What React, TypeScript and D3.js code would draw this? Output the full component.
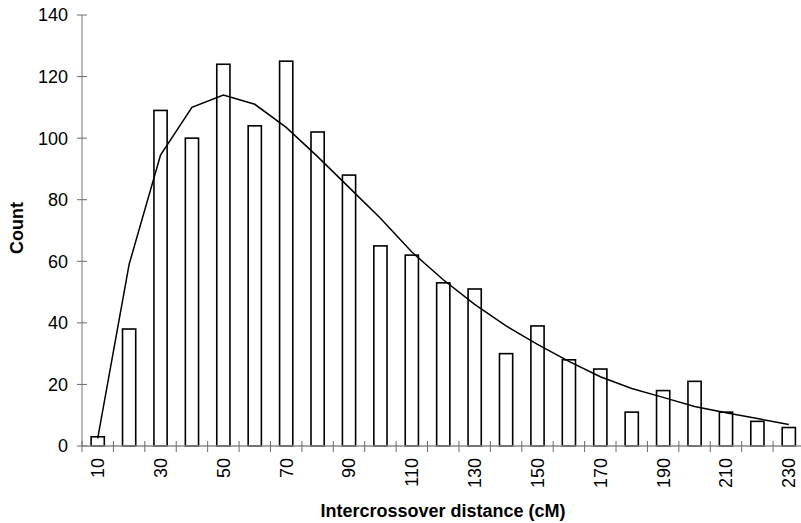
import { useEffect, useRef } from 'react';
import * as d3 from 'd3';

// intercrossover distance bins (cM)
const categories = [10, 20, 30, 40, 50, 60, 70, 80, 90, 100, 110, 120, 130, 140, 150, 160, 170, 180, 190, 200, 210, 220, 230];
// observed counts (bars)
const counts = [3, 38, 109, 100, 124, 104, 125, 102, 88, 65, 62, 53, 51, 30, 39, 28, 25, 11, 18, 21, 11, 8, 6];
// fitted curve
const fitted = [2.5, 59, 94.5, 110, 114, 111, 103.5, 94, 84, 74, 63, 54, 46, 39, 33, 27.5, 22.5, 18.7, 15.8, 12.8, 10.8, 8.9, 7];
const yTicks = [0, 20, 40, 60, 80, 100, 120, 140];
const xLabels = [10, 30, 50, 70, 90, 110, 130, 150, 170, 190, 210, 230];

export default function App() {
  const svgRef = useRef<SVGSVGElement | null>(null);

  useEffect(() => {
    if (!svgRef.current) return;
    const width = 801;
    const height = 523;
    const font = '"Liberation Sans", Arial, sans-serif';

    const svg = d3.select(svgRef.current);
    svg.selectAll('*').remove();
    svg.attr('width', width).attr('height', height);

    const x = d3.scaleBand<number>().domain(categories).range([82, 804.5]).padding(0);
    const y = d3.scaleLinear().domain([0, 140]).range([446, 15]);
    const bw = x.bandwidth() * 0.42;
    const cx = (c: number) => (x(c) ?? 0) + x.bandwidth() / 2;

    // y axis
    svg.append('line')
      .attr('x1', 82).attr('x2', 82)
      .attr('y1', y(140)).attr('y2', y(0))
      .attr('stroke', '#8a8a8a').attr('stroke-width', 1.2);
    svg.selectAll('.ytick')
      .data(yTicks)
      .enter()
      .append('line')
      .attr('x1', 77).attr('x2', 87)
      .attr('y1', (d) => y(d)).attr('y2', (d) => y(d))
      .attr('stroke', '#6a6a6a').attr('stroke-width', 1);
    svg.selectAll('.ylab')
      .data(yTicks)
      .enter()
      .append('text')
      .attr('x', 68)
      .attr('y', (d) => y(d))
      .attr('dy', '0.36em')
      .attr('text-anchor', 'end')
      .style('font-family', font)
      .style('font-size', '18px')
      .text((d) => d);

    // bars
    svg.selectAll('.bar')
      .data(categories)
      .enter()
      .append('rect')
      .attr('x', (d) => cx(d) - bw / 2)
      .attr('y', (d, i) => y(counts[i]))
      .attr('width', bw)
      .attr('height', (d, i) => y(0) - y(counts[i]))
      .attr('fill', '#fff')
      .attr('stroke', '#000')
      .attr('stroke-width', 1.6);

    // x axis
    svg.append('line')
      .attr('x1', 82).attr('x2', 804.5)
      .attr('y1', y(0)).attr('y2', y(0))
      .attr('stroke', '#8a8a8a').attr('stroke-width', 1.6);
    const bounds = categories.map((c) => x(c) ?? 0).concat([804.5]);
    svg.selectAll('.xtick')
      .data(bounds)
      .enter()
      .append('line')
      .attr('x1', (d) => d).attr('x2', (d) => d)
      .attr('y1', 441).attr('y2', 452)
      .attr('stroke', '#6a6a6a').attr('stroke-width', 1);
    svg.selectAll('.xlab')
      .data(xLabels)
      .enter()
      .append('text')
      .attr('transform', (d) => `translate(${cx(d)}, 458) rotate(-90)`)
      .attr('dy', '0.36em')
      .attr('text-anchor', 'end')
      .style('font-family', font)
      .style('font-size', '18px')
      .text((d) => d);

    // fitted curve
    const line = d3.line<number>()
      .x((d, i) => cx(categories[i]))
      .y((d) => y(d));
    svg.append('path')
      .datum(fitted)
      .attr('d', line)
      .attr('fill', 'none')
      .attr('stroke', '#000')
      .attr('stroke-width', 1.5);

    // titles
    svg.append('text')
      .attr('x', 443).attr('y', 517)
      .attr('text-anchor', 'middle')
      .style('font-family', font)
      .style('font-size', '18px')
      .style('font-weight', 'bold')
      .text('Intercrossover distance (cM)');
    svg.append('text')
      .attr('transform', 'translate(23, 228) rotate(-90)')
      .attr('text-anchor', 'middle')
      .style('font-family', font)
      .style('font-size', '18px')
      .style('font-weight', 'bold')
      .text('Count');
  }, []);

  return (
    <svg ref={svgRef} style={{ position: 'absolute', left: 0, top: 0, background: '#fff' }}></svg>
  );
}
